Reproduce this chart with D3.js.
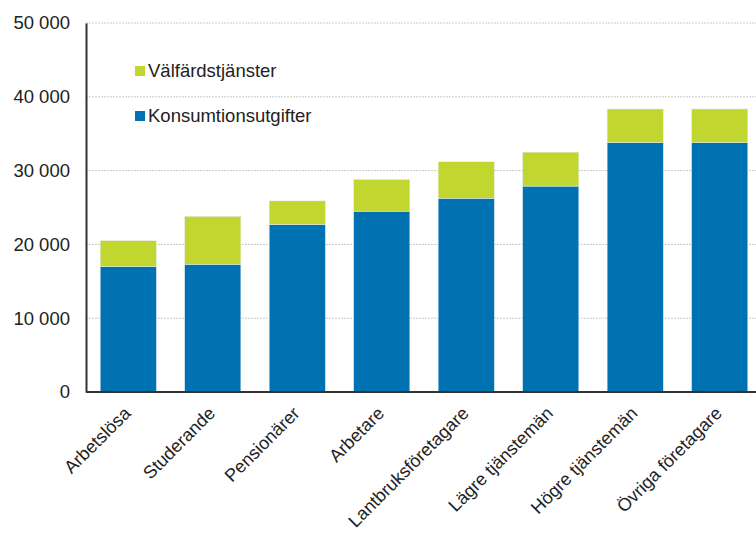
<!DOCTYPE html>
<html lang="sv">
<head>
  <meta charset="UTF-8">
  <title>Konsumtionsutgifter och välfärdstjänster</title>
  <script src="https://d3js.org/d3.v7.min.js"></script>
  <style>
    body { margin: 0; background: #fff; }
    svg { font-family: "Liberation Sans", Arial, sans-serif; display: block; }
    .tick-label { font-size: 18.5px; fill: #222; }
    .cat-label { font-size: 18px; fill: #222; }
    .legend-label { font-size: 18.5px; fill: #222; }
  </style>
</head>
<body>
  <svg></svg>
  <script>
    const categories = ['Arbetslösa', 'Studerande', 'Pensionärer', 'Arbetare',
      'Lantbruksföretagare', 'Lägre tjänstemän', 'Högre tjänstemän', 'Övriga företagare'];
    const konsumtion = [17000, 17300, 22700, 24500, 26250, 27900, 33800, 33800];
    const valfard = [3500, 6500, 3200, 4300, 4950, 4600, 4550, 4550];
    const yTicks = [0, 10000, 20000, 30000, 40000, 50000];
    const seriesNames = ['Konsumtionsutgifter', 'Välfärdstjänster'];
    const colors = ['#0072b1', '#c1d72f'];

    const W = 756, H = 535;
    const margin = { top: 23, right: -6, bottom: 143, left: 86 };
    const width = W - margin.left - margin.right;
    const height = H - margin.top - margin.bottom;

    const svg = d3.select('svg').attr('width', W).attr('height', H);
    const g = svg.append('g').attr('transform', `translate(${margin.left},${margin.top})`);

    const rows = categories.map((c, i) => ({ cat: c, k: konsumtion[i], v: valfard[i] }));
    const stack = d3.stack().keys(['k', 'v'])(rows);

    const x = d3.scaleBand().domain(categories).range([0, width]).paddingInner(0.335).paddingOuter(0.168);
    const y = d3.scaleLinear().domain([0, 50000]).range([height, 0]);

    // grid
    g.selectAll('.grid').data(yTicks.filter(t => t > 0)).enter().append('line')
      .attr('x1', 0).attr('x2', width)
      .attr('y1', d => y(d)).attr('y2', d => y(d))
      .attr('stroke', '#c8c8c8').attr('stroke-width', 1).attr('stroke-dasharray', '2,1');

    // bars
    g.selectAll('.series').data(stack).enter().append('g')
      .attr('fill', (d, i) => colors[i])
      .selectAll('rect').data(d => d).enter().append('rect')
      .attr('x', d => x(d.data.cat))
      .attr('width', x.bandwidth())
      .attr('y', d => y(d[1]))
      .attr('height', d => y(d[0]) - y(d[1]))
      .attr('stroke', '#e6eef2').attr('stroke-width', 0.5);

    // axes
    const yAxis = g.append('g')
      .call(d3.axisLeft(y).tickValues(yTicks).tickSize(0).tickPadding(16)
        .tickFormat(d => d3.format(',')(d).replace(/,/g, ' ')));
    yAxis.select('.domain').attr('stroke', '#333').attr('stroke-width', 2);
    yAxis.selectAll('text').attr('class', 'tick-label').attr('font-family', null).attr('font-size', null);

    g.append('line').attr('x1', 0).attr('x2', width).attr('y1', height).attr('y2', height)
      .attr('stroke', '#333').attr('stroke-width', 2);

    const xAxis = g.append('g').attr('transform', `translate(0,${height})`)
      .call(d3.axisBottom(x).tickSize(0));
    xAxis.select('.domain').remove();
    xAxis.selectAll('text')
      .attr('class', 'cat-label').attr('font-family', null).attr('font-size', null)
      .attr('text-anchor', 'end')
      .attr('transform', 'translate(-1,18) rotate(-45)')
      .attr('dy', '0.35em').attr('y', 0).attr('x', 0);

    // legend
    const legend = g.append('g').attr('transform', 'translate(49,0)');
    const legendItems = [{ name: seriesNames[1], color: colors[1], yy: 48 }, { name: seriesNames[0], color: colors[0], yy: 93 }];
    legendItems.forEach(it => {
      legend.append('rect').attr('x', 0).attr('y', it.yy - 5).attr('width', 10).attr('height', 10).attr('fill', it.color);
      legend.append('text').attr('class', 'legend-label').attr('x', 13).attr('y', it.yy).attr('dy', '0.35em').text(it.name);
    });
  </script>
</body>
</html>
